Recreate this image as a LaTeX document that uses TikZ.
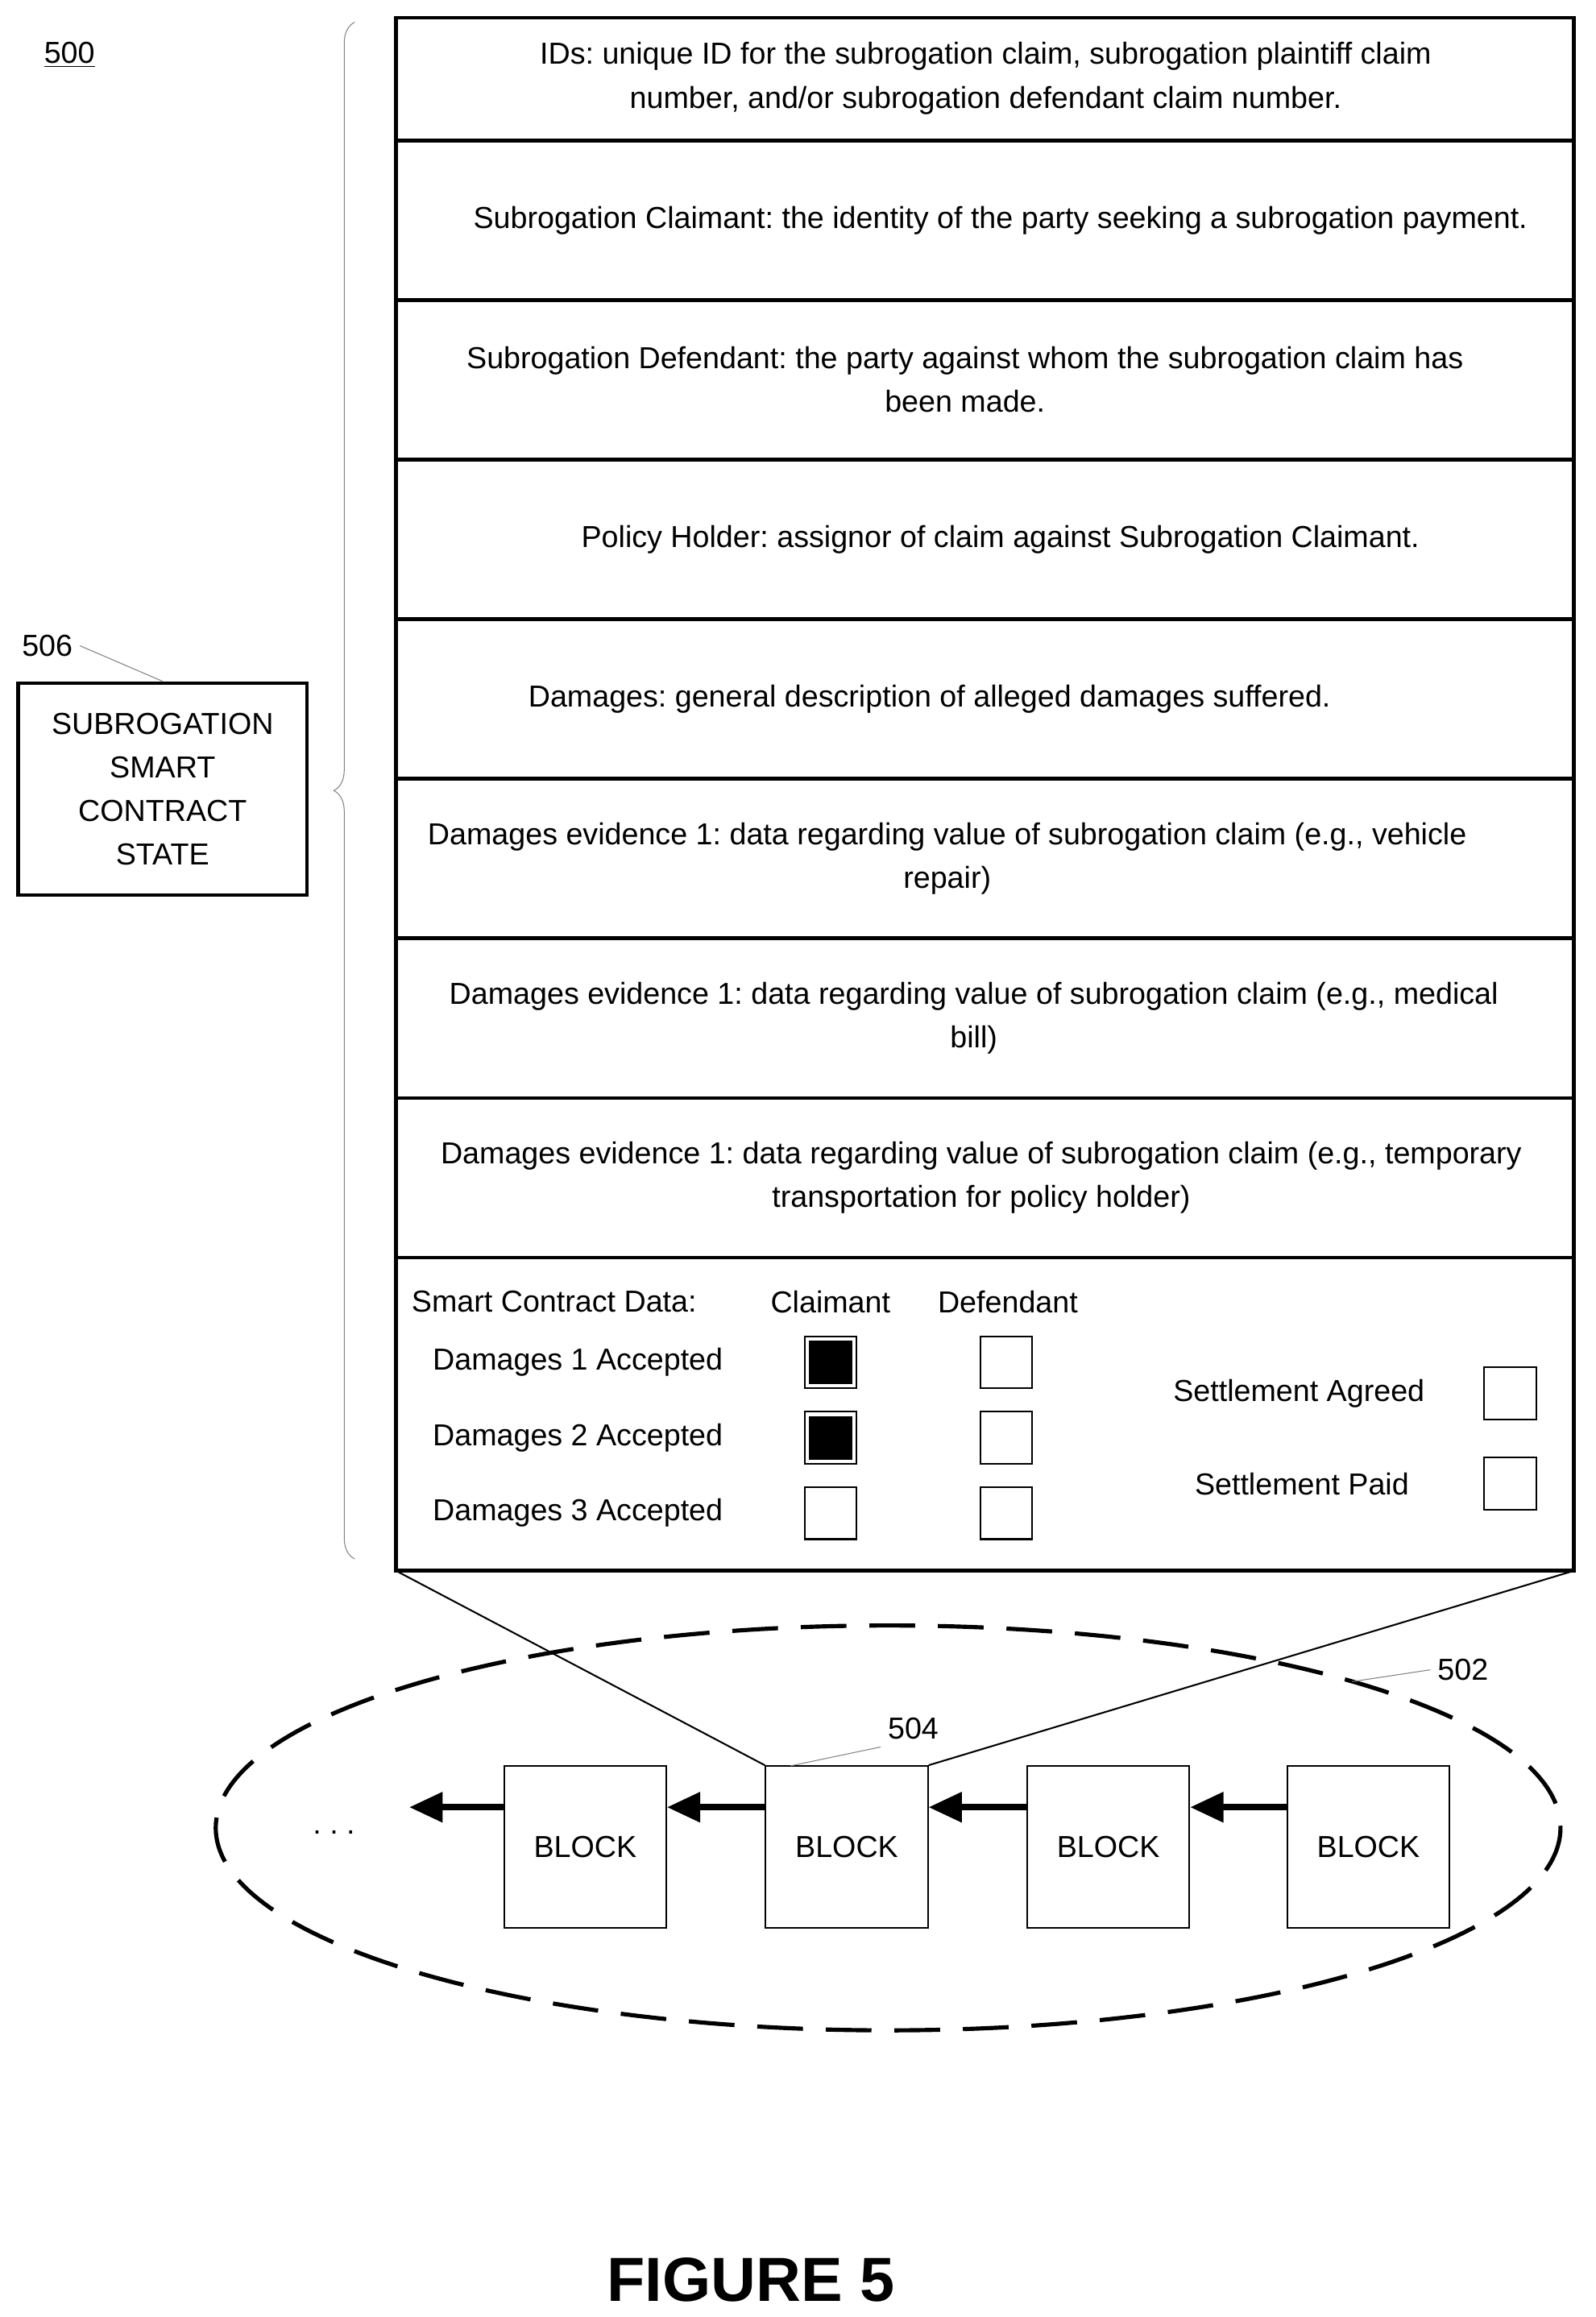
\documentclass[tikz,border=0pt]{standalone}
\usepackage{fontspec}
\setmainfont{Liberation Sans}
\usetikzlibrary{arrows.meta,decorations.pathreplacing}
\begin{document}
\frenchspacing
\begin{tikzpicture}[x=0.025cm,y=-0.025cm,
    every node/.style={font=\fontsize{14.6}{21}\selectfont},
    row/.style={align=center},
    chk/.style={draw, thick, minimum size=25pt, inner sep=0},
    blk/.style={draw, thick, minimum size=78pt, inner sep=0}
]
    \useasboundingbox (0,0) rectangle (1080,1568);
    \node (fig) at (47,37) {\underline{500}};

    % state table
    \draw[line width=1.8pt] (268,12) rectangle (1065,1063);
    \foreach \y in {95,203,311,419,527,635,743,851}
        \draw[line width=1.8pt] (268,\y) -- (1065,\y);
    \node[row] (r1) at (667,53) {IDs: unique ID for the subrogation claim, subrogation plaintiff claim\\number, and/or subrogation defendant claim number.};
    \node[row] (r2) at (677,149) {Subrogation Claimant: the identity of the party seeking a subrogation payment.};
    \node[row] (r3) at (653,257) {Subrogation Defendant: the party against whom the subrogation claim has\\been made.};
    \node[row] (r4) at (677,365) {Policy Holder: assignor of claim against Subrogation Claimant.};
    \node[row] (r5) at (629,473) {Damages: general description of alleged damages suffered.};
    \node[row] (r6) at (641,581) {Damages evidence 1: data regarding value of subrogation claim (e.g., vehicle\\repair)};
    \node[row] (r7) at (659,689) {Damages evidence 1: data regarding value of subrogation claim (e.g., medical\\bill)};
    \node[row] (r8) at (664,797) {Damages evidence 1: data regarding value of subrogation claim (e.g., temporary\\transportation for policy holder)};

    % smart contract data
    \node (scd) at (375,881) {Smart Contract Data:};
    \node (cl) at (562,881) {Claimant};
    \node (df) at (682,881) {Defendant};
    \node (d1) at (391,922) {Damages 1 Accepted};
    \node (d2) at (391,973) {Damages 2 Accepted};
    \node (d3) at (391,1024) {Damages 3 Accepted};
    \node[chk] (c1) at (562,922) {};
    \node[minimum size=21pt, inner sep=0, fill=black] at (c1) {};
    \node[chk] (c2) at (562,973) {};
    \node[minimum size=21pt, inner sep=0, fill=black] at (c2) {};
    \node[chk] (c3) at (562,1024) {};
    \node[chk] (e1) at (681,922) {};
    \node[chk] (e2) at (681,973) {};
    \node[chk] (e3) at (681,1024) {};
    \node (sa) at (879,943) {Settlement Agreed};
    \node (sp) at (881,1004) {Settlement Paid};
    \node[chk] (s1) at (1022,943) {};
    \node[chk] (s2) at (1022,1004) {};

    % brace and state label
    \draw[decorate, decoration={brace, amplitude=10}, gray] (240,1055) -- (240,15);
    \node[draw, line width=1.8pt, minimum width=139pt, minimum height=102pt, align=center] (st) at (110,534) {SUBROGATION\\SMART\\CONTRACT\\STATE};
    \node (n506) at (32,437) {506};
    \draw[gray] (n506.east) -- (st.north);

    % chain
    \draw[line width=2pt, dash pattern=on 22pt off 11pt] (601,1237) ellipse (455 and 137);
    \node[blk] (b1) at (396,1250) {BLOCK};
    \node[blk] (b2) at (573,1250) {BLOCK};
    \node[blk] (b3) at (750,1250) {BLOCK};
    \node[blk] (b4) at (926,1250) {BLOCK};
    \node (dots) at (226,1240) {. . .};
    \coordinate (end) at (277,1223);
    \foreach \a/\b in {b2/b1, b3/b2, b4/b3}
        \draw[line width=3pt, -{Triangle[length=16pt,width=14pt]}] (\a.west |- 0,1223) -- (\b.east |- 0,1223);
    \draw[line width=3pt, -{Triangle[length=16pt,width=14pt]}] (b1.west |- 0,1223) -- (end);
    \draw[thick] (268,1063) -- (b2.north west);
    \draw[thick] (1065,1063) -- (b2.north east);
    \node (n504) at (618,1170) {504};
    \draw[gray] (n504.south west) -- (535,1195);
    \node (n502) at (990,1130) {502};
    \draw[gray] (n502.west) -- (915,1138);

    \node[font=\bfseries\fontsize{30}{36}\selectfont] (title) at (508,1543) {FIGURE 5};
\end{tikzpicture}
\end{document}
